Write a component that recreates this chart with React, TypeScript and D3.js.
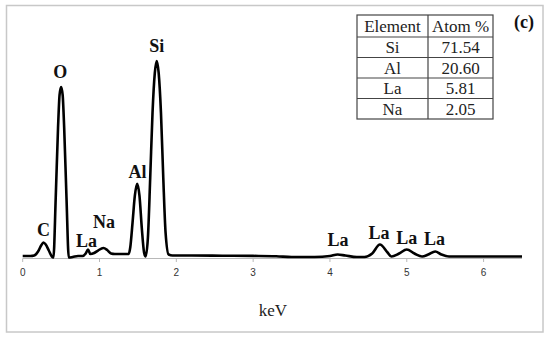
import React from "react";
import * as d3 from "d3";

// Spectrum: [keV, intensity]
const spectrumKeV = [
  0.0, 0.1, 0.15, 0.2, 0.24, 0.27, 0.3, 0.34, 0.38, 0.4,
  0.43, 0.46, 0.48, 0.5, 0.52, 0.54, 0.57, 0.6,
  0.65, 0.72, 0.78, 0.82, 0.85, 0.88, 0.93, 0.98, 1.05, 1.1, 1.15, 1.2, 1.3, 1.38,
  1.4, 1.43, 1.46, 1.49, 1.52, 1.55, 1.58, 1.6,
  1.63, 1.66, 1.69, 1.72, 1.745, 1.77, 1.8, 1.83, 1.86, 1.9, 1.95,
  2.2, 2.6, 3.0, 3.3, 3.5, 3.8, 4.0, 4.1, 4.2, 4.35, 4.45,
  4.55, 4.65, 4.75, 4.8, 4.9, 5.0, 5.1, 5.2, 5.28, 5.37, 5.45, 5.55, 5.8, 6.2, 6.5,
];
const spectrumCounts = [
  1.5, 1.5, 2, 6, 12, 15, 13, 7, 1, 0,
  60, 130, 163, 171, 163, 130, 60, 0,
  0.5, 1.5, 1.5, 4, 8, 3.5, 4.5, 7, 9.5, 7.5, 4, 3.5, 3.5, 3.5,
  10, 35, 62, 74, 62, 30, 5, 1,
  20, 80, 145, 185, 197, 185, 145, 80, 25, 3, 2,
  2, 1.8, 1.6, 1.3, 0.5, 0.5, 1.5, 3, 2, 0.5, 0.5,
  4, 13, 5, 1, 4, 8, 4, 1, 3, 6, 3, 1, 1, 1, 1,
];

const xTicks = [0, 1, 2, 3, 4, 5, 6];

const peakNames = ["C", "La", "Na", "O", "Al", "Si", "La", "La", "La", "La"];
const peakLabelKeV = [0.27, 0.83, 1.06, 0.49, 1.495, 1.745, 4.105, 4.64, 5.0, 5.36];
const peakLabelLevel = [27.5, 16.5, 36, 186, 86, 212, 17.5, 25, 19.5, 18.5];

const tableHeader = ["Element", "Atom %"];
const tableElements = ["Si", "Al", "La", "Na"];
const tableAtomPct = ["71.54", "20.60", "5.81", "2.05"];

export default function App() {
  const W = 550;
  const H = 341;
  const x = d3.scaleLinear().domain([0, 6.5]).range([22.7, 522]);
  const y = d3.scaleLinear().domain([0, 197]).range([257.5, 61]);

  const pts: [number, number][] = spectrumKeV.map((k, i) => [k, spectrumCounts[i]]);
  const line = d3
    .line<[number, number]>()
    .x((d) => x(d[0]))
    .y((d) => y(d[1]))
    .curve(d3.curveMonotoneX);

  const serif = "'Liberation Serif', 'Times New Roman', serif";
  const sans = "'Liberation Sans', Arial, sans-serif";

  // table layout
  const tX0 = 357, tX1 = 428, tX2 = 493;
  const rowsY = [15, 37, 57.5, 78, 98.5, 119];

  return (
    <div style={{ position: "absolute", left: 0, top: 0 }}>
      <svg width={W} height={H} style={{ display: "block", background: "#fff" }}>
        <rect x={6.5} y={5.5} width={536.5} height={326.5} fill="#fff" stroke="#c8c8c8" strokeWidth={1.5} />

        {/* x axis */}
        <line x1={x(0)} x2={x(6.5)} y1={258.5} y2={258.5} stroke="#b8b8b8" strokeWidth={1} />
        {xTicks.map((t) => (
          <g key={t}>
            <line x1={x(t)} x2={x(t)} y1={258.5} y2={262} stroke="#b8b8b8" strokeWidth={1} />
            <text
              x={x(t)}
              y={276}
              textAnchor="middle"
              fontFamily={sans}
              fontSize={10}
              fill="#333"
            >
              {t}
            </text>
          </g>
        ))}
        <text x={273} y={316} textAnchor="middle" fontFamily={serif} fontSize={17} fill="#222">
          keV
        </text>

        {/* spectrum */}
        <path d={line(pts) || ""} fill="none" stroke="#000" strokeWidth={2.6} strokeLinejoin="round" />

        {/* peak labels */}
        {peakNames.map((n, i) => (
          <text
            key={i}
            x={x(peakLabelKeV[i])}
            y={y(peakLabelLevel[i])}
            dy="0.35em"
            textAnchor="middle"
            fontFamily={serif}
            fontWeight="bold"
            fontSize={18}
            fill="#111"
          >
            {n}
          </text>
        ))}

        {/* table */}
        <g stroke="#444" strokeWidth={1.2} fill="none">
          <rect x={tX0} y={rowsY[0]} width={tX2 - tX0} height={rowsY[5] - rowsY[0]} />
          <line x1={tX1} x2={tX1} y1={rowsY[0]} y2={rowsY[5]} />
          {rowsY.slice(1, 5).map((ry, i) => (
            <line key={i} x1={tX0} x2={tX2} y1={ry} y2={ry} />
          ))}
        </g>
        {[tableHeader, ...tableElements.map((e, i) => [e, tableAtomPct[i]])].map((row, r) => (
          <g key={r}>
            {row.map((cell, c) => (
              <text
                key={c}
                x={c === 0 ? (tX0 + tX1) / 2 : (tX1 + tX2) / 2}
                y={(rowsY[r] + rowsY[r + 1]) / 2}
                dy="0.35em"
                textAnchor="middle"
                fontFamily={serif}
                fontSize={17}
                fill="#222"
              >
                {cell}
              </text>
            ))}
          </g>
        ))}

        <text x={524} y={22} dy="0.35em" textAnchor="middle" fontFamily={serif} fontWeight="bold" fontSize={18} fill="#111">
          (c)
        </text>
      </svg>
    </div>
  );
}
